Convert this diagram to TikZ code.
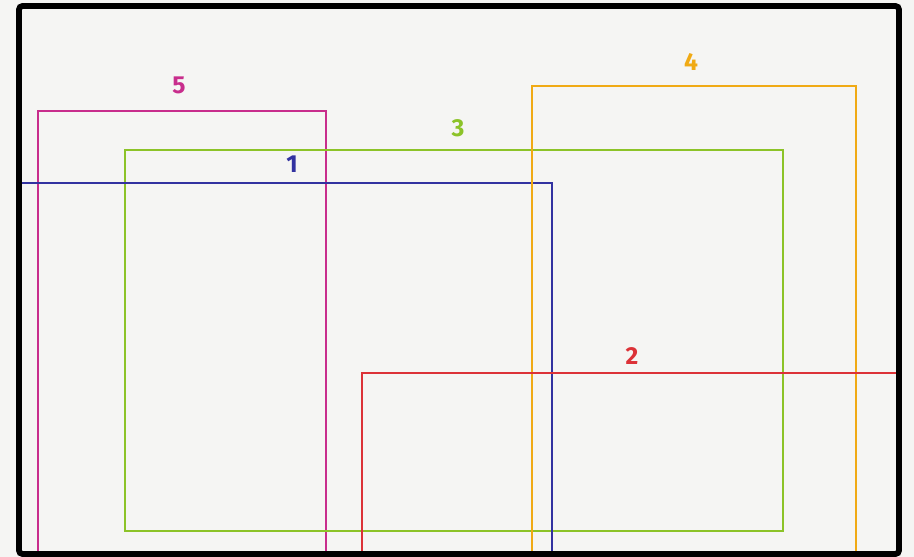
\documentclass[tikz,border=0pt]{standalone}
\usepackage{fontspec}
\setmainfont{Fira Sans}
\usetikzlibrary{positioning}

\definecolor{boxmagenta}{RGB}{200,45,140}
\definecolor{boxgreen}{RGB}{140,195,40}
\definecolor{boxblue}{RGB}{50,50,160}
\definecolor{boxorange}{RGB}{240,170,20}
\definecolor{boxred}{RGB}{220,50,55}
\definecolor{paper}{RGB}{245,245,243}

\begin{document}
\begin{tikzpicture}[
    x=0.02cm, y=-0.02cm,
    frame/.style={draw=black, line width=3.3pt, rounded corners=2pt},
    region/.style={line width=1.1pt},
    tag/.style={font=\fontsize{14}{15}\selectfont\bfseries, inner sep=1pt}
]

% paper and bounding box
\fill[paper] (0,0) rectangle (914,557);
\useasboundingbox (0,0) rectangle (914,557);

% corners of the outer frame
\coordinate (fnw) at (19,6);
\coordinate (fse) at (899,554);

% Region 5 (magenta)
\draw[region, boxmagenta] (38,554) -- (38,111) -- (326,111) -- (326,554);
\node[tag, text=boxmagenta] (t5) at (179,85) {5};

% Region 3 (green, closed)
\draw[region, boxgreen] (125,150) rectangle (783,531);
\node[tag, text=boxgreen] (t3) at (458,128) {3};

% Region 1 (blue)
\draw[region, boxblue] (19,183) -- (552,183) -- (552,554);
\node[tag, text=boxblue] (t1) at (292,164) {1};

% Region 4 (orange)
\draw[region, boxorange] (532,554) -- (532,86) -- (856,86) -- (856,554);
\node[tag, text=boxorange] (t4) at (691,62) {4};

% Region 2 (red)
\draw[region, boxred] (362,554) -- (362,373) -- (899,373);
\node[tag, text=boxred] (t2) at (632,356) {2};

% outer frame
\draw[frame] (fnw) rectangle (fse);

\end{tikzpicture}
\end{document}
